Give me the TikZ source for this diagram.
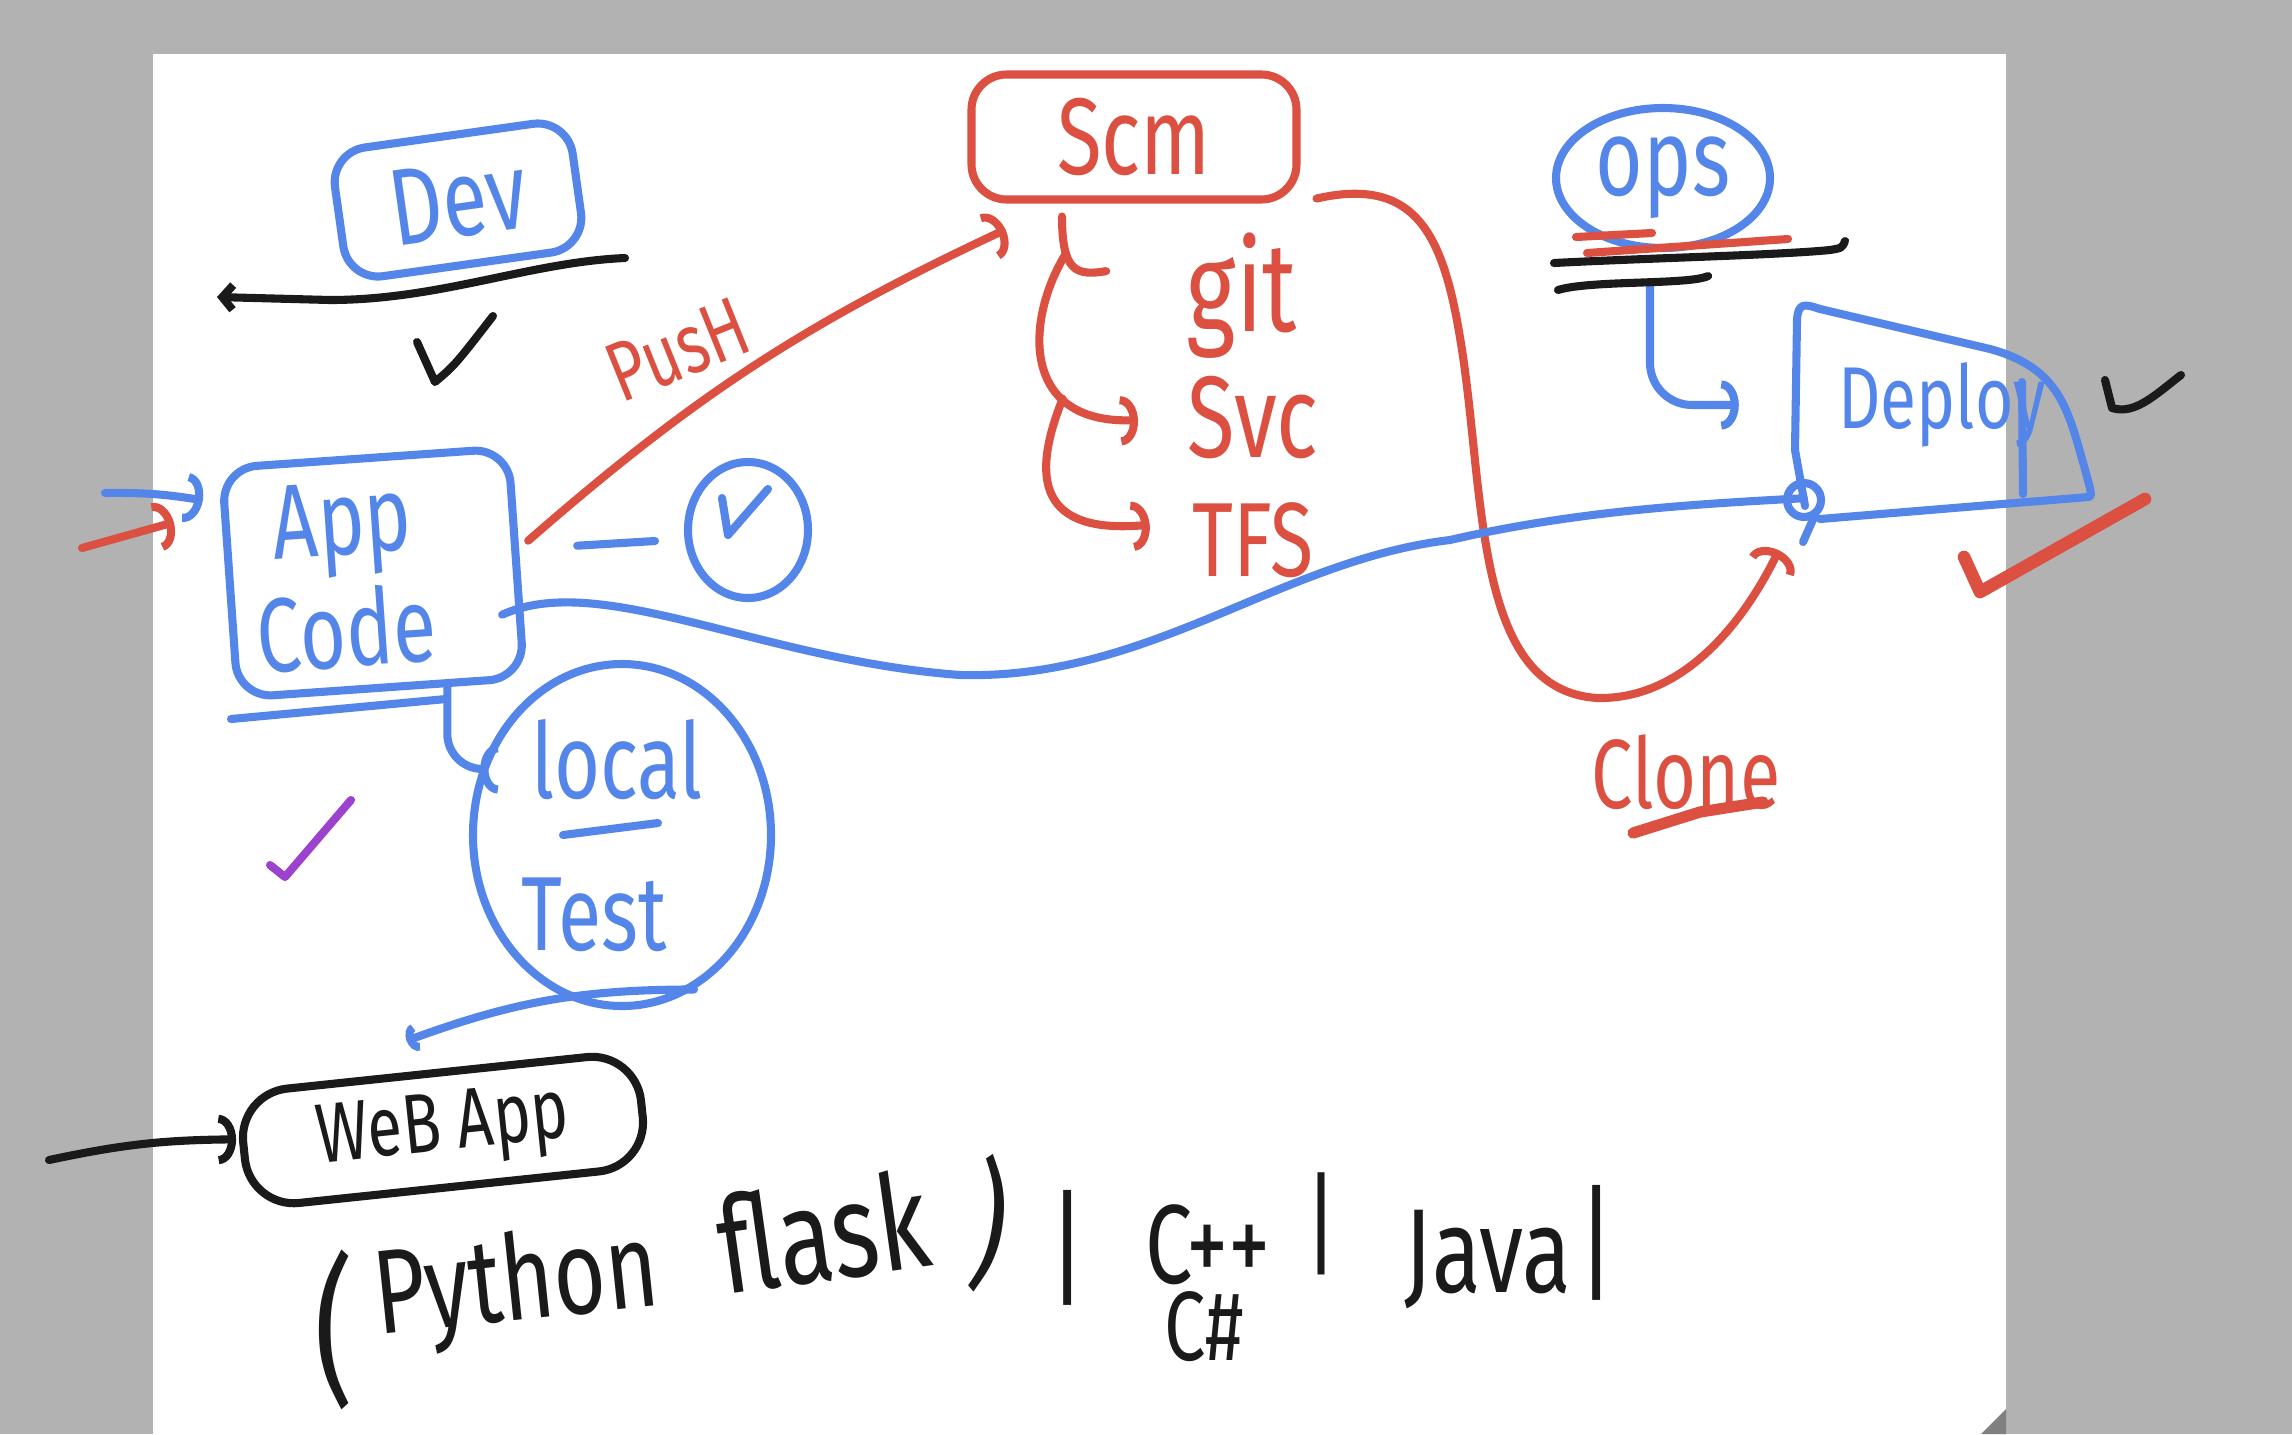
\documentclass[tikz,border=0pt]{standalone}
\usepackage{fontspec}
\setmainfont{Fira Sans}[FakeStretch=0.75]
\usepackage{tikz}
\usetikzlibrary{shapes.geometric,positioning,arrows.meta}
\definecolor{penblue}{RGB}{84,134,234}
\definecolor{penred}{RGB}{220,80,66}
\definecolor{penblack}{RGB}{26,26,26}
\definecolor{penpurple}{RGB}{156,66,204}
\definecolor{desk}{RGB}{178,178,178}
\definecolor{curl}{RGB}{128,128,128}
\newcommand{\handsize}[1]{\fontsize{#1}{#1}\selectfont}
\tikzset{pen/.style={line width=2.3pt,line cap=round,line join=round},
  bpen/.style={pen,draw=penblue},
  rpen/.style={pen,draw=penred},
  kpen/.style={pen,draw=penblack},
  bbox/.style={bpen,text=penblue,rounded corners=10pt,inner sep=4pt},
  rbox/.style={rpen,text=penred,rounded corners=10pt,inner sep=4pt},
  kbox/.style={kpen,text=penblack,rounded corners=14pt,inner sep=4pt},
  bell/.style={bpen,ellipse,text=penblue,inner sep=0pt},
  btxt/.style={text=penblue,inner sep=0pt},
  rtxt/.style={text=penred,inner sep=0pt},
  ktxt/.style={text=penblack,inner sep=0pt}}

\begin{document}
\begin{tikzpicture}[>={Arc Barb[width=14pt,length=5pt]}]
    \useasboundingbox (0,0) rectangle (22.92,-14.34);
    \fill[desk] (0,0) rectangle (22.92,-14.34);
    \fill[white] (1.53,-0.54) rectangle (20.06,-14.34);
    \fill[curl] (19.81,-14.34) -- (20.06,-14.09) -- (20.06,-14.34) -- cycle;

    \node[bbox,rotate=8,minimum width=2.4cm,minimum height=1.3cm,font=\handsize{31}] (dev) at (4.58,-2.00) {Dev\hspace{0.2cm}};
    \node[rbox,minimum width=3.25cm,minimum height=1.25cm,font=\handsize{31}] (scm) at (11.34,-1.37) {Scm};
    \node[rtxt,anchor=base,font=\handsize{36}] (git) at (12.42,-3.31) {git};
    \node[rtxt,anchor=base,font=\handsize{33}] (svc) at (12.53,-4.57) {Svc};
    \node[rtxt,anchor=base,font=\handsize{30}] (tfs) at (12.53,-5.76) {TFS};
    \node[bell,minimum width=2.14cm,minimum height=1.40cm,font=\handsize{31}] (ops) at (16.63,-1.78) {ops\hspace{0.15cm}};
    \node[btxt,minimum width=2.95cm,minimum height=1.95cm,font=\handsize{25}] (deploy) at (19.42,-4.05) {Deploy\hspace{0.45cm}};
    \node[bbox,rotate=4,minimum width=2.87cm,minimum height=2.3cm,text width=2.4cm,align=left,font=\handsize{30}] (appcode) at (3.73,-5.73) {\hspace*{0.23cm}App\\[2pt]Code};
    \node[bell,minimum width=1.2cm,minimum height=1.36cm] (chk) at (7.48,-5.30) {};
    \node[bell,minimum width=2.98cm,minimum height=3.42cm] (localtest) at (6.22,-8.35) {};
    \node[btxt,anchor=base,font=\handsize{30}] (localtxt) at (6.17,-7.98) {local};
    \node[btxt,anchor=base,font=\handsize{30}] (testtxt) at (5.94,-9.50) {Test};
    \node[kbox,rotate=6,minimum width=4.0cm,minimum height=1.15cm,font=\handsize{24}] (webapp) at (4.43,-11.30) {WeB App};
    \node[rtxt,rotate=22,font=\handsize{24}] (push) at (6.78,-3.50) {PusH};
    \node[rtxt,anchor=base,font=\handsize{28}] (clone) at (16.86,-8.08) {Clone};

    \node[ktxt,font=\handsize{46}] (lpar) at (3.34,-13.30) {(};
    \node[ktxt,anchor=base,rotate=6,font=\handsize{34}] (python) at (5.20,-13.20) {Python};
    \node[ktxt,anchor=base,rotate=8,font=\handsize{38}] (flask) at (8.30,-12.80) {flask};
    \node[ktxt,rotate=-8,font=\handsize{40}] (rpar) at (9.90,-12.24) {)};
    \node[ktxt,font=\handsize{36}] (bari) at (10.68,-12.48) {|};
    \node[ktxt,anchor=base,font=\handsize{32}] (cpp) at (12.08,-12.83) {C++};
    \node[ktxt,anchor=base,font=\handsize{28}] (csharp) at (12.04,-13.60) {C\#};
    \node[ktxt,font=\handsize{32}] (barii) at (13.21,-12.24) {|};
    \node[ktxt,anchor=base,font=\handsize{34}] (java) at (14.88,-12.92) {Java};
    \node[ktxt,font=\handsize{36}] (bariii) at (15.97,-12.43) {|};

    \coordinate (devr) at (6.25,-2.58);
    \coordinate (devl) at (2.17,-2.97);
    \coordinate (bluein) at (1.05,-4.93);
    \coordinate (redin) at (0.82,-5.48);
    \coordinate (webin) at (0.49,-11.60);

    \draw[kpen,-{Straight Barb[length=3pt,width=7pt]}] (devr) .. controls (5.3,-2.62) and (4.4,-3.0) .. (3.3,-3.0) -- (devl);
    \draw[rpen,->] ([shift={(0.08,0.22)}]appcode.east) to[bend left=8] ([shift={(0.38,-0.26)}]scm.south west);
    \draw[rpen] ([shift={(-0.72,-0.13)}]scm.south) .. controls +(0,-0.55) and +(-0.3,-0.05) .. ([shift={(-0.80,0.24)}]git.west) coordinate[pos=0.3] (forki);
    \draw[rpen,->] (forki) .. controls (10.25,-3.2) and (10.2,-4.25) .. ([shift={(-0.49,-0.03)}]svc.west) coordinate[pos=0.7] (forkii);
    \draw[rpen,->] (forkii) .. controls (10.3,-4.8) and (10.4,-5.35) .. ([shift={(-0.42,0.15)}]tfs.west);
    \draw[rpen,->] ([shift={(0.16,0.05)}]scm.south east) .. controls (14.2,-1.75) and (14.45,-2.4) .. (14.62,-3.5) .. controls (14.85,-5.0) and (14.75,-6.9) .. (15.97,-6.98) .. controls (16.9,-7.0) and (17.5,-6.1) .. ([shift={(-0.15,-0.47)}]deploy.south west);
    \draw[bpen] ([shift={(-0.18,-0.52)}]appcode.east) .. controls (6.0,-5.7) and (7.6,-6.6) .. (9.6,-6.75) .. controls (11.5,-6.8) and (12.8,-5.6) .. (14.5,-5.4) .. controls (15.8,-5.1) and (17.0,-5.04) .. ([shift={(0.1,0.05)}]deploy.south west);
    \draw[bpen,->,rounded corners=12pt,shorten <=0.3cm] ([xshift=-0.13cm]ops.south) |- ([xshift=-0.55cm]deploy.west);
    \draw[bpen,->,rounded corners=10pt] ([shift={(0.66,0.08)}]appcode.south) |- (localtest.155);
    \draw[bpen] ([shift={(0.57,0.17)}]appcode.east) -- ([shift={(-0.29,-0.11)}]chk.west);
    \draw[bpen,-{Arc Barb[width=8pt,length=3pt]}] (localtest.-65) to[bend right=10] ([shift={(-0.3,0.28)}]webapp.north);
    \draw[bpen,->] (bluein) to[bend left=5] ([shift={(-0.23,0.83)}]appcode.west);
    \draw[rpen,->] (redin) -- ([shift={(-0.52,0.61)}]appcode.west);
    \draw[kpen,->] (webin) .. controls (1.2,-11.45) and (1.6,-11.40) .. ([shift={(-0.04,0.12)}]webapp.west);

    \draw[bpen] (18.05,-5.06) -- (17.95,-4.5) -- (17.97,-3.2) .. controls (17.98,-3.02) and (18.05,-3.04) .. (18.2,-3.09) -- (19.9,-3.49) .. controls (20.6,-3.68) and (20.68,-4.1) .. (20.84,-4.66) .. controls (20.92,-4.95) .. (20.89,-4.97) -- (19.9,-5.05) -- (18.2,-5.19);
    \draw[bpen] (20.22,-3.82) -- (20.23,-4.94);
    \draw[bpen] (18.04,-5.0) circle (0.17);
    \draw[bpen] (18.15,-5.15) -- (18.03,-5.42);
    \draw[bpen] (2.31,-7.19) -- (4.46,-6.99);
    \draw[bpen] (5.63,-8.35) -- (6.58,-8.23);
    \draw[bpen] (7.22,-4.98) -- (7.28,-5.35) -- (7.68,-4.89);
    \draw[rpen] (15.76,-2.37) -- (16.52,-2.33);
    \draw[rpen] (15.87,-2.53) -- (17.88,-2.39);
    \draw[kpen] (15.54,-2.63) .. controls (16.5,-2.58) and (17.8,-2.55) .. (18.30,-2.50) .. controls (18.42,-2.48) .. (18.45,-2.41);
    \draw[kpen] (15.58,-2.90) .. controls (15.9,-2.80) and (16.9,-2.85) .. (17.08,-2.76);
    \draw[rpen,line width=3.2pt] (16.33,-8.33) -- (17.0,-8.12) -- (17.63,-8.02);

    \draw[kpen] (4.17,-3.42) -- (4.35,-3.82) .. controls (4.55,-3.65) .. (4.93,-3.16);
    \draw[kpen] (21.05,-3.80) -- (21.12,-4.08) .. controls (21.35,-4.15) and (21.55,-3.95) .. (21.81,-3.75);
    \draw[rpen,line width=3.6pt] (19.64,-5.57) -- (19.80,-5.92) -- (21.45,-4.99);
    \draw[pen,draw=penpurple] (2.70,-8.65) -- (2.85,-8.77) -- (3.51,-8.00);
\end{tikzpicture}
\end{document}
